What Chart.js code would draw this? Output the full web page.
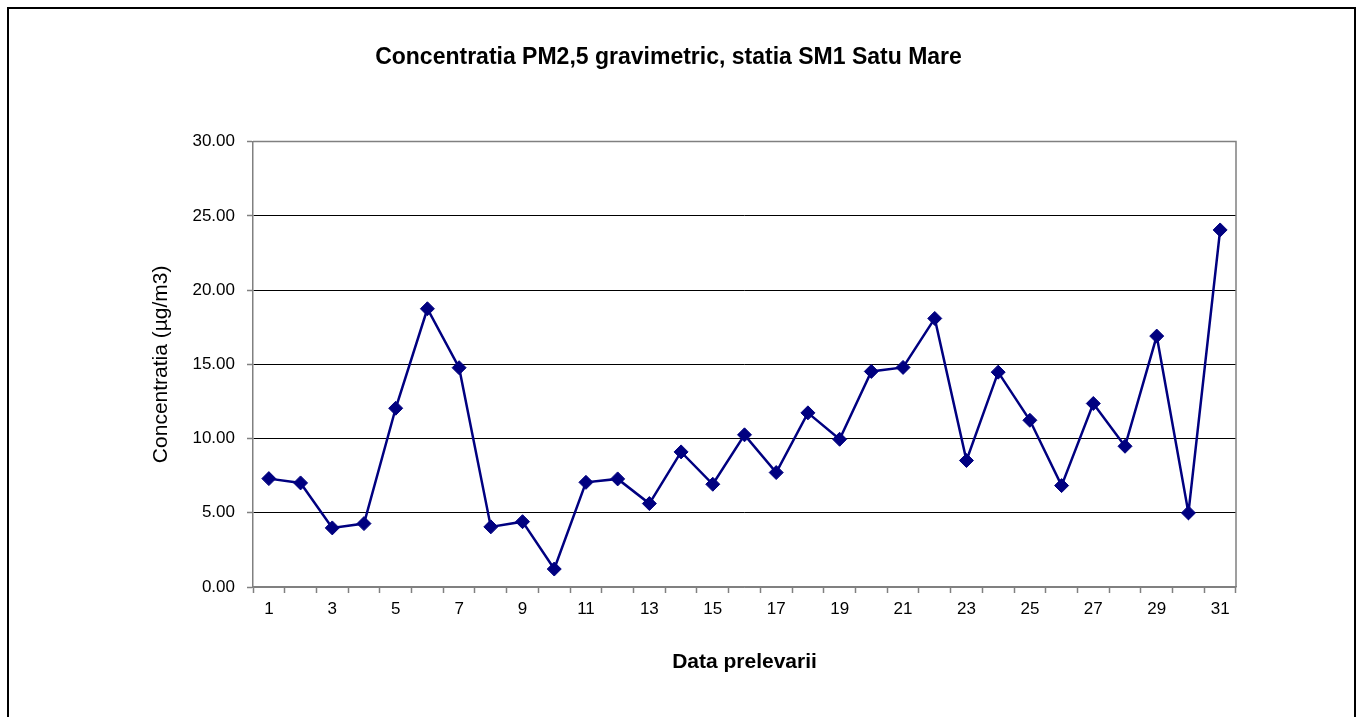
<!DOCTYPE html>
<html>
<head>
<meta charset="utf-8">
<script src="https://cdn.jsdelivr.net/npm/chart.js@4"></script>
<style>
  html, body { margin: 0; padding: 0; background: #fff; overflow: hidden; }
  #frame {
    position: absolute; left: 7px; top: 7px; width: 1345px; height: 730px;
    border: 2px solid #000; border-bottom: none;
  }
  #wrap { position: absolute; left: 0; top: 0; width: 1359px; height: 717px; }
</style>
</head>
<body>
<div id="frame"></div>
<div id="wrap"><canvas id="chart" width="1359" height="717"></canvas></div>
<script>
// Date de prelevare (zilele lunii)
const days = [
  '1', '2', '3', '4', '5', '6', '7', '8', '9', '10',
  '11', '12', '13', '14', '15', '16', '17', '18', '19', '20',
  '21', '22', '23', '24', '25', '26', '27', '28', '29', '30', '31'
];

// Concentratia PM2,5 (µg/m3)
const concentrations = [
  7.30, 7.01, 3.98, 4.27, 12.04, 18.74, 14.77, 4.05, 4.40, 1.21,
  7.05, 7.28, 5.62, 9.10, 6.92, 10.25, 7.71, 11.73, 9.95, 14.52,
  14.79, 18.09, 8.52, 14.47, 11.23, 6.83, 12.36, 9.48, 16.90, 4.99,
  24.05
];

const yMin = 0;
const yMax = 30;
const yStep = 5;

const fontFamily = '"Liberation Sans", Arial, sans-serif';

// Chenarul gri al zonei de plotare
const plotBorder = {
  id: 'plotBorder',
  afterDraw(chart) {
    const { ctx, chartArea: a } = chart;
    ctx.save();
    ctx.strokeStyle = '#808080';
    ctx.lineWidth = 1.5;
    ctx.beginPath();
    ctx.moveTo(a.left, a.top);
    ctx.lineTo(a.right, a.top);
    ctx.lineTo(a.right, a.bottom);
    ctx.stroke();
    ctx.restore();
  }
};

new Chart(document.getElementById('chart'), {
  type: 'line',
  data: {
    labels: days,
    datasets: [{
      data: concentrations,
      borderColor: '#000080',
      backgroundColor: '#000080',
      borderWidth: 2.5,
      pointStyle: 'rectRot',
      pointRadius: 7,
      pointHoverRadius: 7,
      pointBorderWidth: 1,
      tension: 0
    }]
  },
  options: {
    responsive: false,
    animation: false,
    layout: { padding: { left: 0, right: 22, top: 0, bottom: 0 } },
    plugins: {
      legend: { display: false },
      tooltip: { enabled: false },
      title: {
        display: true,
        text: 'Concentratia PM2,5 gravimetric, statia SM1 Satu Mare',
        color: '#000',
        font: { family: fontFamily, size: 23, weight: 'bold' },
        padding: { top: 44, bottom: 70 }
      }
    },
    scales: {
      x: {
        offset: true,
        grid: {
          offset: true,
          drawOnChartArea: false,
          drawTicks: true,
          tickLength: 6,
          tickColor: '#808080',
          tickWidth: 1.5
        },
        border: { color: '#808080', width: 1.5 },
        ticks: {
          autoSkip: false,
          maxRotation: 0,
          padding: 6,
          color: '#000',
          font: { family: fontFamily, size: 17 },
          callback: function (value, index) {
            return index % 2 === 0 ? days[index] : '';
          }
        },
        title: {
          display: true,
          text: 'Data prelevarii',
          color: '#000',
          font: { family: fontFamily, size: 21, weight: 'bold' },
          padding: { top: 0, bottom: 42 }
        },
        afterFit: function (scale) { scale.height = 130; }
      },
      y: {
        min: yMin,
        max: yMax,
        ticks: {
          stepSize: yStep,
          padding: 12,
          color: '#000',
          font: { family: fontFamily, size: 17 },
          callback: function (value) { return Number(value).toFixed(2); }
        },
        grid: {
          color: function (c) {
            return (c.tick && (c.tick.value === yMax || c.tick.value === yMin)) ? '#808080' : '#000';
          },
          lineWidth: 1,
          drawTicks: true,
          tickLength: 6,
          tickColor: '#808080',
          tickWidth: 1.5
        },
        border: { color: '#808080', width: 1.5 },
        title: {
          display: true,
          text: 'Concentratia (µg/m3)',
          color: '#000',
          font: { family: fontFamily, size: 21 },
          padding: { top: 149, bottom: 0 }
        },
        afterFit: function (scale) { scale.width = 253; }
      },
      // axa goala din dreapta, doar pentru spatiu (titlul ramane centrat)
      spacer: {
        type: 'linear',
        position: 'right',
        grid: { display: false, drawTicks: false },
        ticks: { display: false },
        border: { display: false },
        afterFit: function (scale) { scale.width = 101; }
      }
    }
  },
  plugins: [plotBorder]
});
</script>
</body>
</html>
